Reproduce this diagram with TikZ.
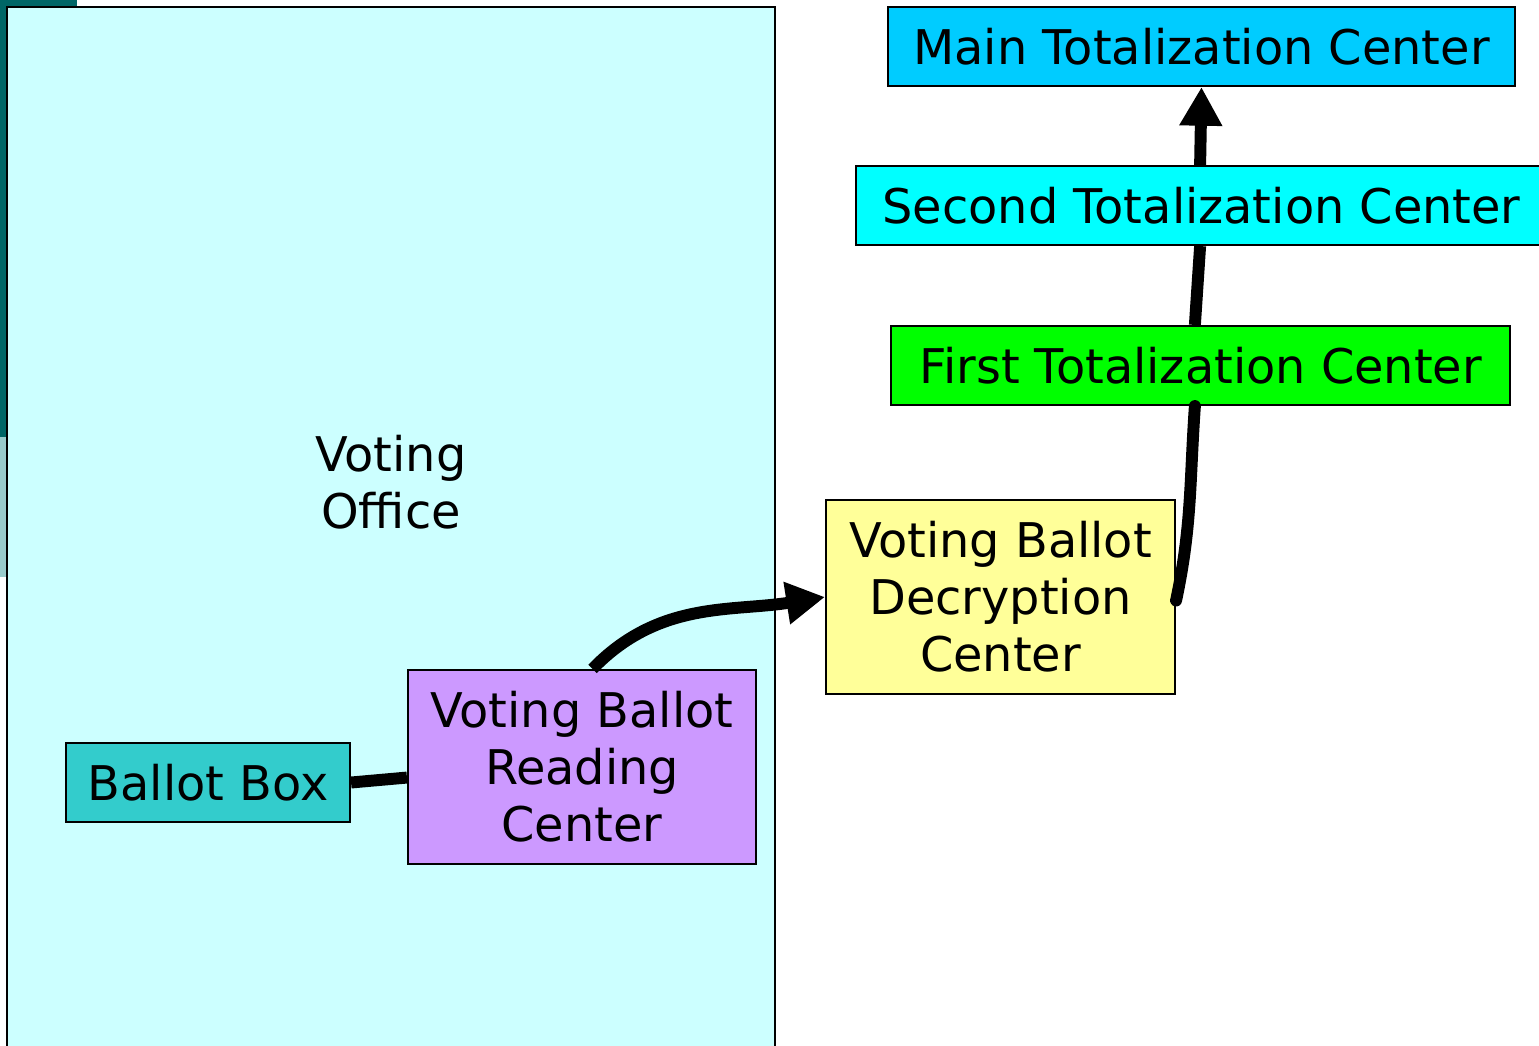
\documentclass[tikz,border=0pt]{standalone}
\usepackage{fontspec}
\setmainfont{DejaVu Sans}
\usetikzlibrary{arrows.meta}
\definecolor{mainblue}{HTML}{00CCFF}
\definecolor{secondcyan}{HTML}{00FFFF}
\definecolor{firstgreen}{HTML}{00FF00}
\definecolor{decyellow}{HTML}{FFFF99}
\definecolor{readviolet}{HTML}{CC99FF}
\definecolor{boxteal}{HTML}{33CCCC}
\definecolor{officecyan}{HTML}{CCFFFF}
\definecolor{darkteal}{HTML}{006666}
\definecolor{lightteal}{HTML}{99CCCC}
\tikzset{
  center/.style={draw=black, line width=0.6pt, inner sep=0pt,
    font=\fontsize{13.6}{16.2}\selectfont, align=center},
  link/.style={line width=3.4pt, draw=black},
}
\begin{document}
\begin{tikzpicture}[>={Triangle[length=11pt,width=11.5pt]}]
    \useasboundingbox (0, 0) rectangle (15.39, -10.45);
    % slide decoration behind the office
    \fill[darkteal] (0, 0) rectangle (0.77, -0.1);
    \fill[darkteal] (0, 0) rectangle (0.1, -4.37);
    \fill[lightteal] (0, -4.37) rectangle (0.1, -5.77);
    % voting office
    \draw[fill=officecyan, line width=0.6pt]
      (0.07, -0.07) rectangle (7.75, -10.7);
    \node[font=\fontsize{13.6}{16.2}\selectfont, align=center] (office)
      at (3.91, -4.82) {Voting\\Office};
    \node[center, fill=boxteal, minimum width=2.84cm, minimum height=0.79cm]
      (ballot) at (2.08, -7.825) {Ballot Box};
    \node[center, fill=readviolet, minimum width=3.48cm, minimum height=1.94cm]
      (read) at (5.82, -7.67) {Voting Ballot\\Reading\\Center};
    % centers outside
    \node[center, fill=decyellow, minimum width=3.49cm, minimum height=1.94cm]
      (dec) at (10.005, -5.97) {Voting Ballot\\Decryption\\Center};
    \node[center, fill=firstgreen, minimum width=6.19cm, minimum height=0.79cm]
      (first) at (12.005, -3.655) {First Totalization Center};
    \node[center, fill=secondcyan, minimum width=6.91cm, minimum height=0.79cm]
      (second) at (12.015, -2.055) {Second Totalization Center};
    \node[center, fill=mainblue, minimum width=6.27cm, minimum height=0.79cm]
      (main) at (12.015, -0.465) {Main Totalization Center};
    % connectors
    \draw[link] (ballot.east) -- ([yshift=-3pt]read.west);
    \draw[link, ->]
      ([xshift=3pt]read.north) to[out=46, in=189] (dec.west);
    \draw[link, line cap=round]
      ([yshift=-1pt]dec.east) to[out=78, in=-94] ([xshift=-1.6pt]first.south);
    \draw[link]
      ([xshift=-1.6pt]first.north) -- ([xshift=-0.4pt]second.south);
    \draw[link, ->]
      ([xshift=-0.4pt]second.north) -- (main.south);
  \end{tikzpicture}
\end{document}
